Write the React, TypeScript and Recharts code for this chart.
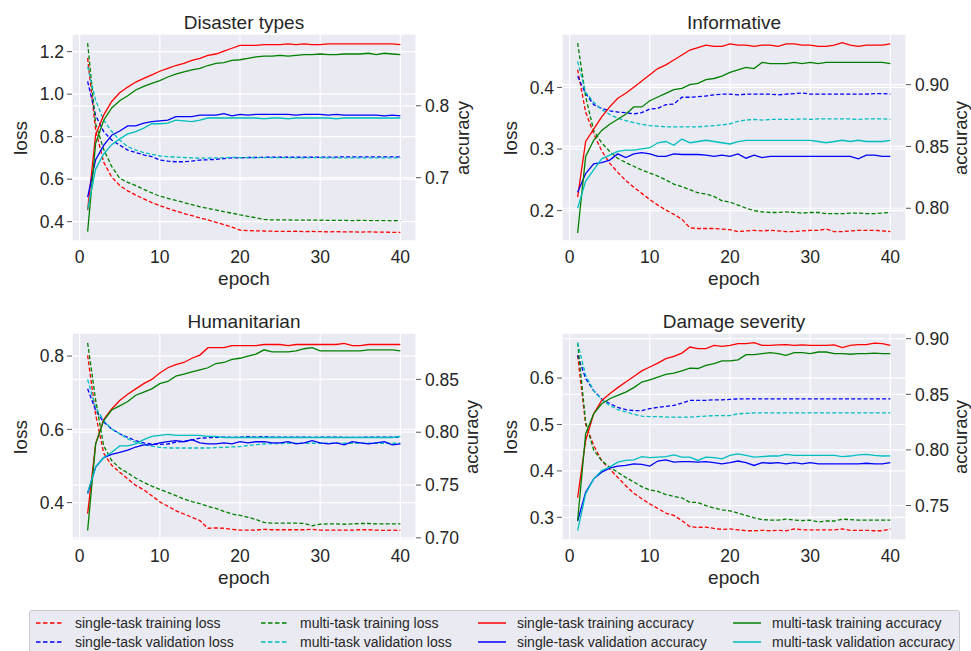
import React from 'react';
import { LineChart, Line, XAxis, YAxis, CartesianGrid } from 'recharts';

const epochs = [1, 2, 3, 4, 5, 6, 7, 8, 9, 10, 11, 12, 13, 14, 15, 16, 17, 18, 19, 20, 21, 22, 23, 24, 25, 26, 27, 28, 29, 30, 31, 32, 33, 34, 35, 36, 37, 38, 39, 40];
const epochTicks = [0, 10, 20, 30, 40];

// ---------- Disaster types ----------
const disasterSingleTrainLoss = [1.17, 0.83, 0.68, 0.61, 0.57, 0.545, 0.525, 0.507, 0.49, 0.475, 0.462, 0.45, 0.438, 0.428, 0.418, 0.408, 0.397, 0.386, 0.374, 0.36, 0.358, 0.357, 0.356, 0.355, 0.354, 0.354, 0.355, 0.353, 0.354, 0.353, 0.352, 0.353, 0.352, 0.352, 0.351, 0.352, 0.351, 0.351, 0.35, 0.35];
const disasterMultiTrainLoss = [1.24, 0.86, 0.74, 0.66, 0.604, 0.585, 0.57, 0.552, 0.535, 0.52, 0.51, 0.5, 0.49, 0.48, 0.47, 0.462, 0.455, 0.447, 0.44, 0.432, 0.425, 0.418, 0.411, 0.408, 0.408, 0.408, 0.407, 0.407, 0.407, 0.407, 0.406, 0.406, 0.406, 0.405, 0.406, 0.405, 0.405, 0.405, 0.404, 0.405];
const disasterSingleValLoss = [1.06, 0.9, 0.824, 0.784, 0.76, 0.737, 0.725, 0.714, 0.706, 0.69, 0.685, 0.682, 0.682, 0.685, 0.69, 0.691, 0.693, 0.697, 0.7, 0.7, 0.702, 0.702, 0.703, 0.703, 0.703, 0.703, 0.703, 0.703, 0.703, 0.703, 0.704, 0.704, 0.705, 0.705, 0.705, 0.705, 0.705, 0.705, 0.705, 0.705];
const disasterMultiValLoss = [1.13, 0.97, 0.878, 0.824, 0.784, 0.753, 0.737, 0.725, 0.717, 0.709, 0.706, 0.704, 0.702, 0.7, 0.699, 0.699, 0.7, 0.701, 0.703, 0.701, 0.701, 0.701, 0.701, 0.701, 0.701, 0.701, 0.7, 0.7, 0.701, 0.701, 0.7, 0.7, 0.7, 0.7, 0.7, 0.7, 0.7, 0.7, 0.7, 0.7];
const disasterSingleTrainAcc = [0.655, 0.76, 0.787, 0.806, 0.818, 0.826, 0.833, 0.838, 0.843, 0.848, 0.852, 0.856, 0.859, 0.863, 0.866, 0.87, 0.872, 0.876, 0.88, 0.884, 0.884, 0.884, 0.885, 0.885, 0.885, 0.886, 0.885, 0.886, 0.885, 0.885, 0.886, 0.886, 0.886, 0.886, 0.886, 0.886, 0.886, 0.886, 0.886, 0.885];
const disasterMultiTrainAcc = [0.625, 0.748, 0.78, 0.797, 0.807, 0.814, 0.822, 0.827, 0.831, 0.835, 0.84, 0.844, 0.847, 0.85, 0.852, 0.856, 0.859, 0.86, 0.863, 0.864, 0.866, 0.868, 0.869, 0.869, 0.87, 0.869, 0.87, 0.871, 0.871, 0.872, 0.871, 0.871, 0.872, 0.872, 0.872, 0.873, 0.871, 0.873, 0.872, 0.871];
const disasterSingleValAcc = [0.673, 0.725, 0.745, 0.759, 0.765, 0.772, 0.772, 0.776, 0.778, 0.779, 0.78, 0.785, 0.785, 0.785, 0.787, 0.787, 0.787, 0.789, 0.786, 0.788, 0.787, 0.788, 0.788, 0.788, 0.788, 0.788, 0.787, 0.788, 0.788, 0.788, 0.787, 0.788, 0.787, 0.787, 0.787, 0.787, 0.787, 0.786, 0.787, 0.786];
const disasterMultiValAcc = [0.656, 0.712, 0.733, 0.746, 0.754, 0.761, 0.764, 0.769, 0.775, 0.775, 0.776, 0.78, 0.779, 0.778, 0.78, 0.783, 0.783, 0.783, 0.783, 0.783, 0.783, 0.783, 0.782, 0.783, 0.783, 0.782, 0.783, 0.783, 0.783, 0.783, 0.783, 0.782, 0.783, 0.783, 0.783, 0.783, 0.783, 0.783, 0.783, 0.783];

// ---------- Informative ----------
const informativeSingleTrainLoss = [0.429, 0.36, 0.325, 0.297, 0.277, 0.262, 0.249, 0.238, 0.228, 0.218, 0.209, 0.201, 0.194, 0.186, 0.172, 0.171, 0.171, 0.171, 0.17, 0.169, 0.166, 0.167, 0.168, 0.167, 0.168, 0.167, 0.166, 0.166, 0.167, 0.168, 0.168, 0.17, 0.166, 0.166, 0.167, 0.168, 0.168, 0.168, 0.167, 0.166];
const informativeMultiTrainLoss = [0.472, 0.385, 0.33, 0.31, 0.296, 0.285, 0.278, 0.272, 0.266, 0.261, 0.256, 0.25, 0.243, 0.239, 0.234, 0.229, 0.227, 0.223, 0.216, 0.214, 0.209, 0.204, 0.2, 0.198, 0.197, 0.197, 0.198, 0.197, 0.196, 0.197, 0.197, 0.195, 0.195, 0.195, 0.196, 0.196, 0.195, 0.195, 0.196, 0.197];
const informativeSingleValLoss = [0.418, 0.39, 0.372, 0.366, 0.362, 0.36, 0.359, 0.357, 0.359, 0.365, 0.366, 0.372, 0.373, 0.384, 0.384, 0.385, 0.386, 0.388, 0.389, 0.389, 0.388, 0.389, 0.389, 0.389, 0.389, 0.388, 0.389, 0.39, 0.391, 0.389, 0.389, 0.389, 0.389, 0.389, 0.389, 0.389, 0.389, 0.39, 0.39, 0.389];
const informativeMultiValLoss = [0.442, 0.392, 0.376, 0.364, 0.356, 0.35, 0.346, 0.343, 0.34, 0.338, 0.337, 0.336, 0.336, 0.336, 0.336, 0.336, 0.337, 0.338, 0.339, 0.341, 0.345, 0.347, 0.348, 0.347, 0.348, 0.348, 0.348, 0.348, 0.349, 0.348, 0.349, 0.349, 0.349, 0.349, 0.349, 0.348, 0.349, 0.349, 0.349, 0.348];
const informativeSingleTrainAcc = [0.809, 0.854, 0.864, 0.874, 0.882, 0.889, 0.893, 0.898, 0.903, 0.908, 0.913, 0.916, 0.92, 0.924, 0.928, 0.93, 0.932, 0.931, 0.931, 0.933, 0.932, 0.932, 0.931, 0.932, 0.932, 0.931, 0.933, 0.933, 0.932, 0.932, 0.931, 0.931, 0.932, 0.934, 0.932, 0.931, 0.932, 0.932, 0.932, 0.933];
const informativeMultiTrainAcc = [0.78, 0.842, 0.855, 0.863, 0.868, 0.872, 0.876, 0.882, 0.882, 0.887, 0.89, 0.893, 0.896, 0.897, 0.9, 0.901, 0.904, 0.905, 0.907, 0.91, 0.912, 0.914, 0.913, 0.918, 0.917, 0.917, 0.917, 0.918, 0.917, 0.918, 0.917, 0.918, 0.918, 0.918, 0.918, 0.918, 0.918, 0.918, 0.918, 0.917];
const informativeSingleValAcc = [0.813, 0.828, 0.836, 0.837, 0.839, 0.844, 0.841, 0.844, 0.845, 0.844, 0.842, 0.842, 0.844, 0.8435, 0.8435, 0.8435, 0.843, 0.842, 0.843, 0.842, 0.844, 0.8405, 0.843, 0.841, 0.842, 0.842, 0.842, 0.842, 0.842, 0.842, 0.842, 0.842, 0.842, 0.842, 0.842, 0.84, 0.843, 0.843, 0.842, 0.842];
const informativeMultiValAcc = [0.8, 0.822, 0.831, 0.84, 0.843, 0.846, 0.847, 0.847, 0.848, 0.849, 0.853, 0.854, 0.851, 0.856, 0.853, 0.854, 0.855, 0.854, 0.853, 0.852, 0.854, 0.855, 0.855, 0.855, 0.855, 0.855, 0.855, 0.855, 0.855, 0.855, 0.854, 0.853, 0.854, 0.855, 0.854, 0.855, 0.854, 0.854, 0.854, 0.855];

// ---------- Humanitarian ----------
const humanitarianSingleTrainLoss = [0.802, 0.64, 0.535, 0.502, 0.483, 0.465, 0.447, 0.435, 0.419, 0.402, 0.39, 0.378, 0.369, 0.36, 0.351, 0.33, 0.331, 0.33, 0.327, 0.325, 0.325, 0.325, 0.327, 0.326, 0.326, 0.326, 0.326, 0.326, 0.327, 0.325, 0.325, 0.325, 0.325, 0.325, 0.326, 0.326, 0.325, 0.324, 0.325, 0.324];
const humanitarianMultiTrainLoss = [0.836, 0.68, 0.555, 0.515, 0.494, 0.481, 0.467, 0.455, 0.445, 0.436, 0.428, 0.419, 0.41, 0.403, 0.397, 0.39, 0.384, 0.376, 0.369, 0.365, 0.36, 0.354, 0.346, 0.344, 0.344, 0.344, 0.344, 0.343, 0.337, 0.341, 0.342, 0.342, 0.341, 0.342, 0.343, 0.343, 0.342, 0.342, 0.342, 0.342];
const humanitarianSingleValLoss = [0.711, 0.652, 0.62, 0.601, 0.588, 0.578, 0.569, 0.563, 0.56, 0.559, 0.56, 0.565, 0.567, 0.571, 0.576, 0.577, 0.578, 0.579, 0.578, 0.579, 0.58, 0.579, 0.58, 0.579, 0.579, 0.579, 0.579, 0.579, 0.578, 0.579, 0.579, 0.579, 0.578, 0.578, 0.578, 0.579, 0.579, 0.579, 0.579, 0.579];
const humanitarianMultiValLoss = [0.736, 0.66, 0.624, 0.601, 0.588, 0.574, 0.565, 0.559, 0.554, 0.551, 0.549, 0.549, 0.549, 0.549, 0.549, 0.549, 0.55, 0.551, 0.552, 0.553, 0.556, 0.558, 0.56, 0.561, 0.561, 0.562, 0.562, 0.562, 0.562, 0.562, 0.562, 0.562, 0.562, 0.562, 0.562, 0.562, 0.562, 0.562, 0.562, 0.562];
const humanitarianSingleTrainAcc = [0.723, 0.789, 0.812, 0.822, 0.83, 0.836, 0.841, 0.846, 0.85, 0.856, 0.861, 0.864, 0.866, 0.87, 0.873, 0.88, 0.88, 0.88, 0.882, 0.882, 0.882, 0.882, 0.883, 0.883, 0.883, 0.882, 0.883, 0.883, 0.883, 0.883, 0.883, 0.883, 0.884, 0.882, 0.882, 0.883, 0.883, 0.883, 0.883, 0.883];
const humanitarianMultiTrainAcc = [0.707, 0.789, 0.811, 0.821, 0.825, 0.829, 0.835, 0.838, 0.841, 0.846, 0.848, 0.853, 0.855, 0.857, 0.859, 0.861, 0.865, 0.866, 0.869, 0.87, 0.872, 0.874, 0.878, 0.876, 0.876, 0.876, 0.877, 0.879, 0.88, 0.877, 0.877, 0.877, 0.877, 0.877, 0.877, 0.878, 0.878, 0.878, 0.878, 0.877];
const humanitarianSingleValAcc = [0.742, 0.767, 0.776, 0.779, 0.781, 0.783, 0.786, 0.788, 0.788, 0.79, 0.791, 0.792, 0.791, 0.793, 0.79, 0.789, 0.789, 0.79, 0.789, 0.791, 0.79, 0.791, 0.791, 0.79, 0.79, 0.791, 0.789, 0.79, 0.792, 0.79, 0.789, 0.79, 0.788, 0.791, 0.79, 0.789, 0.79, 0.791, 0.788, 0.789];
const humanitarianMultiValAcc = [0.743, 0.767, 0.776, 0.781, 0.787, 0.787, 0.789, 0.793, 0.796, 0.797, 0.798, 0.797, 0.797, 0.797, 0.797, 0.796, 0.796, 0.795, 0.795, 0.795, 0.795, 0.795, 0.795, 0.795, 0.795, 0.795, 0.795, 0.795, 0.795, 0.795, 0.795, 0.795, 0.795, 0.795, 0.795, 0.795, 0.795, 0.795, 0.795, 0.796];

// ---------- Damage severity ----------
const damageSingleTrainLoss = [0.649, 0.5, 0.455, 0.422, 0.404, 0.386, 0.368, 0.352, 0.34, 0.329, 0.319, 0.309, 0.304, 0.293, 0.28, 0.278, 0.279, 0.276, 0.274, 0.275, 0.273, 0.271, 0.271, 0.272, 0.271, 0.272, 0.271, 0.275, 0.273, 0.273, 0.273, 0.273, 0.273, 0.275, 0.272, 0.272, 0.272, 0.271, 0.271, 0.275];
const damageMultiTrainLoss = [0.676, 0.505, 0.445, 0.422, 0.408, 0.397, 0.386, 0.376, 0.366, 0.359, 0.356, 0.349, 0.345, 0.342, 0.332, 0.332, 0.325, 0.32, 0.316, 0.314, 0.309, 0.304, 0.299, 0.295, 0.294, 0.294, 0.296, 0.294, 0.293, 0.294, 0.29, 0.292, 0.292, 0.296, 0.295, 0.294, 0.294, 0.294, 0.294, 0.294];
const damageSingleValLoss = [0.649, 0.599, 0.573, 0.555, 0.545, 0.537, 0.532, 0.53, 0.53, 0.534, 0.537, 0.539, 0.541, 0.546, 0.552, 0.552, 0.552, 0.553, 0.553, 0.554, 0.555, 0.555, 0.555, 0.555, 0.555, 0.555, 0.555, 0.555, 0.555, 0.555, 0.555, 0.555, 0.555, 0.555, 0.555, 0.555, 0.555, 0.555, 0.555, 0.555];
const damageMultiValLoss = [0.676, 0.606, 0.573, 0.553, 0.541, 0.532, 0.527, 0.522, 0.518, 0.517, 0.517, 0.516, 0.516, 0.516, 0.516, 0.517, 0.518, 0.519, 0.519, 0.519, 0.523, 0.524, 0.525, 0.525, 0.525, 0.525, 0.525, 0.525, 0.525, 0.525, 0.525, 0.525, 0.525, 0.525, 0.525, 0.525, 0.525, 0.525, 0.525, 0.525];
const damageSingleTrainAcc = [0.757, 0.8085, 0.8325, 0.8445, 0.8505, 0.856, 0.861, 0.866, 0.871, 0.8745, 0.878, 0.882, 0.884, 0.887, 0.8925, 0.891, 0.891, 0.894, 0.893, 0.894, 0.8955, 0.8955, 0.8964, 0.894, 0.894, 0.8945, 0.8947, 0.894, 0.8945, 0.894, 0.894, 0.894, 0.8945, 0.892, 0.894, 0.8947, 0.8947, 0.896, 0.8955, 0.894];
const damageMultiTrainAcc = [0.7365, 0.8145, 0.8325, 0.8415, 0.846, 0.849, 0.852, 0.856, 0.861, 0.863, 0.8655, 0.868, 0.869, 0.871, 0.8735, 0.8732, 0.876, 0.8775, 0.88, 0.88, 0.881, 0.8856, 0.8856, 0.8865, 0.8875, 0.8865, 0.885, 0.8875, 0.8875, 0.8865, 0.888, 0.888, 0.8865, 0.8865, 0.886, 0.8865, 0.8865, 0.887, 0.8865, 0.8865];
const damageSingleValAcc = [0.736, 0.762, 0.774, 0.78, 0.7836, 0.7854, 0.786, 0.7875, 0.787, 0.7854, 0.79, 0.791, 0.789, 0.7895, 0.7895, 0.789, 0.7895, 0.7885, 0.7875, 0.7885, 0.79, 0.7885, 0.786, 0.7885, 0.788, 0.7885, 0.7875, 0.7885, 0.7875, 0.7885, 0.7875, 0.7875, 0.7875, 0.7875, 0.7875, 0.7875, 0.788, 0.7875, 0.7875, 0.7885];
const damageMultiValAcc = [0.7275, 0.7605, 0.774, 0.7815, 0.7845, 0.789, 0.7905, 0.791, 0.794, 0.793, 0.7935, 0.794, 0.7956, 0.7935, 0.7935, 0.7905, 0.7935, 0.793, 0.792, 0.795, 0.7965, 0.795, 0.7935, 0.794, 0.7945, 0.7945, 0.796, 0.795, 0.795, 0.795, 0.795, 0.795, 0.795, 0.794, 0.7945, 0.7956, 0.796, 0.795, 0.7945, 0.7947];

const seriesNames = [
  'single-task training loss',
  'multi-task training loss',
  'single-task training accuracy',
  'multi-task training accuracy',
  'single-task validation loss',
  'multi-task validation loss',
  'single-task validation accuracy',
  'multi-task validation accuracy',
];

const RED = '#FF0000';
const GREEN = '#008000';
const BLUE = '#0000FF';
const CYAN = '#00BFBF';
const FONT = '"Liberation Sans", Arial, Helvetica, sans-serif';
const TEXT = '#262626';
const BG = '#EAEAF2';

type SeriesSet = {
  stl: number[]; mtl: number[]; svl: number[]; mvl: number[];
  sta: number[]; mta: number[]; sva: number[]; mva: number[];
};

type PanelProps = {
  title: string;
  plotLeft: number;
  plotTop: number;
  s: SeriesSet;
  lossDomain: [number, number];
  lossTicks: number[];
  accDomain: [number, number];
  accTicks: number[];
  accDigits: number;
  accLabelGap: number;
};

const PLOT_W = 344;
const PLOT_H = 207;
const LEFT_W = 72;
const RIGHT_W = 62;
const TOP_M = 10;
const X_H = 40;

function Panel(p: PanelProps) {
  const data = epochs.map((e, i) => ({
    epoch: e,
    stl: p.s.stl[i], mtl: p.s.mtl[i], svl: p.s.svl[i], mvl: p.s.mvl[i],
    sta: p.s.sta[i], mta: p.s.mta[i], sva: p.s.sva[i], mva: p.s.mva[i],
  }));
  const tickStyle = { fontSize: 17.5, fill: TEXT, fontFamily: FONT };
  const cx = p.plotLeft + PLOT_W / 2;
  const cy = p.plotTop + PLOT_H / 2;
  const lossLine = (key: string, color: string) => (
    <Line key={key} yAxisId="loss" type="linear" dataKey={key} stroke={color} strokeWidth={1.3}
      strokeDasharray="4 2.2" dot={false} activeDot={false} isAnimationActive={false} />
  );
  const accLine = (key: string, color: string) => (
    <Line key={key} yAxisId="acc" type="linear" dataKey={key} stroke={color} strokeWidth={1.3}
      dot={false} activeDot={false} isAnimationActive={false} />
  );
  const labelStyle: React.CSSProperties = {
    position: 'absolute', fontFamily: FONT, fontSize: 19, color: TEXT, whiteSpace: 'nowrap', lineHeight: 1,
  };
  return (
    <>
      <div style={{ position: 'absolute', left: p.plotLeft - LEFT_W, top: p.plotTop - TOP_M }}>
        <LineChart width={LEFT_W + PLOT_W + RIGHT_W} height={TOP_M + PLOT_H + X_H} data={data}
          margin={{ top: TOP_M, right: 0, bottom: 0, left: 0 }}>
          <CartesianGrid yAxisId="loss" fill={BG} fillOpacity={1} stroke="#FFFFFF" strokeWidth={1.2} />
          <CartesianGrid yAxisId="acc" vertical={false} stroke="#FFFFFF" strokeWidth={1.2} />
          <XAxis dataKey="epoch" type="number" domain={[-0.95, 41.95]} ticks={epochTicks}
            allowDataOverflow tickLine={false} axisLine={false} tickSize={0} tickMargin={10}
            height={X_H} tick={tickStyle} interval={0} />
          <YAxis yAxisId="loss" orientation="left" width={LEFT_W} type="number" domain={p.lossDomain}
            allowDataOverflow ticks={p.lossTicks} interval={0} tickFormatter={(v: number) => v.toFixed(1)}
            axisLine={false} tickSize={5} tickMargin={3} tickLine={{ stroke: '#555', strokeWidth: 1 }} tick={tickStyle} />
          <YAxis yAxisId="acc" orientation="right" width={RIGHT_W} type="number" domain={p.accDomain}
            allowDataOverflow ticks={p.accTicks} interval={0} tickFormatter={(v: number) => v.toFixed(p.accDigits)}
            axisLine={false} tickSize={5} tickMargin={4} tickLine={{ stroke: '#555', strokeWidth: 1 }} tick={tickStyle} />
          {lossLine('stl', RED)}
          {lossLine('svl', BLUE)}
          {lossLine('mtl', GREEN)}
          {lossLine('mvl', CYAN)}
          {accLine('sta', RED)}
          {accLine('sva', BLUE)}
          {accLine('mta', GREEN)}
          {accLine('mva', CYAN)}
        </LineChart>
      </div>
      <div style={{ ...labelStyle, left: cx, top: p.plotTop - 12.5, transform: 'translate(-50%, -50%)' }}>{p.title}</div>
      <div style={{ ...labelStyle, left: cx, top: p.plotTop + PLOT_H + 37, transform: 'translate(-50%, -50%)' }}>epoch</div>
      <div style={{ ...labelStyle, left: p.plotLeft - 52.5, top: cy, transform: 'translate(-50%, -50%) rotate(-90deg)' }}>loss</div>
      <div style={{ ...labelStyle, fontSize: 18.5, left: p.plotLeft + PLOT_W + p.accLabelGap, top: cy, transform: 'translate(-50%, -50%) rotate(-90deg)' }}>accuracy</div>
    </>
  );
}

const legendColors = [RED, GREEN, RED, GREEN, BLUE, CYAN, BLUE, CYAN];
const legendDashed = [true, true, false, false, true, true, false, false];
const legendCols = [35, 260, 477, 732];

function Legend() {
  return (
    <div style={{
      position: 'absolute', left: 29, top: 610, width: 931, height: 50,
      background: BG, border: '1px solid #C8C8CC', borderRadius: 3, boxSizing: 'border-box',
    }}>
      {seriesNames.map((name, i) => {
        const col = i % 4;
        const row = Math.floor(i / 4);
        const x = legendCols[col] - 29;
        const y = row === 0 ? 11.7 : 31;
        return (
          <div key={name} style={{ position: 'absolute', left: x, top: y, transform: 'translateY(-50%)', display: 'flex', alignItems: 'center' }}>
            <svg width={28} height={6} style={{ display: 'block' }}>
              <line x1={0} y1={3} x2={28} y2={3} stroke={legendColors[i]} strokeWidth={1.5}
                strokeDasharray={legendDashed[i] ? '4.5 2.5' : undefined} />
            </svg>
            <span style={{ marginLeft: 11, fontFamily: FONT, fontSize: 14, color: TEXT, whiteSpace: 'nowrap', lineHeight: 1 }}>{name}</span>
          </div>
        );
      })}
    </div>
  );
}

export default function App() {
  return (
    <div style={{ position: 'absolute', left: 0, top: 0, width: 971, height: 651, background: '#FFFFFF', overflow: 'hidden' }}>
      <Panel title="Disaster types" plotLeft={72} plotTop={34}
        s={{ stl: disasterSingleTrainLoss, mtl: disasterMultiTrainLoss, svl: disasterSingleValLoss, mvl: disasterMultiValLoss,
          sta: disasterSingleTrainAcc, mta: disasterMultiTrainAcc, sva: disasterSingleValAcc, mva: disasterMultiValAcc }}
        lossDomain={[0.309, 1.283]} lossTicks={[0.4, 0.6, 0.8, 1.0, 1.2]}
        accDomain={[0.612, 0.8998]} accTicks={[0.7, 0.8]} accDigits={1} accLabelGap={47} />
      <Panel title="Informative" plotLeft={562} plotTop={34}
        s={{ stl: informativeSingleTrainLoss, mtl: informativeMultiTrainLoss, svl: informativeSingleValLoss, mvl: informativeMultiValLoss,
          sta: informativeSingleTrainAcc, mta: informativeMultiTrainAcc, sva: informativeSingleValAcc, mva: informativeMultiValAcc }}
        lossDomain={[0.1507, 0.4867]} lossTicks={[0.2, 0.3, 0.4]}
        accDomain={[0.7735, 0.941]} accTicks={[0.8, 0.85, 0.9]} accDigits={2} accLabelGap={54.5} />
      <Panel title="Humanitarian" plotLeft={72} plotTop={333}
        s={{ stl: humanitarianSingleTrainLoss, mtl: humanitarianMultiTrainLoss, svl: humanitarianSingleValLoss, mvl: humanitarianMultiValLoss,
          sta: humanitarianSingleTrainAcc, mta: humanitarianMultiTrainAcc, sva: humanitarianSingleValAcc, mva: humanitarianMultiValAcc }}
        lossDomain={[0.298, 0.8629]} lossTicks={[0.4, 0.6, 0.8]}
        accDomain={[0.698, 0.8939]} accTicks={[0.7, 0.75, 0.8, 0.85]} accDigits={2} accLabelGap={56} />
      <Panel title="Damage severity" plotLeft={562} plotTop={333}
        s={{ stl: damageSingleTrainLoss, mtl: damageMultiTrainLoss, svl: damageSingleValLoss, mvl: damageMultiValLoss,
          sta: damageSingleTrainAcc, mta: damageMultiTrainAcc, sva: damageSingleValAcc, mva: damageMultiValAcc }}
        lossDomain={[0.2511, 0.6971]} lossTicks={[0.3, 0.4, 0.5, 0.6]}
        accDomain={[0.719, 0.9051]} accTicks={[0.75, 0.8, 0.85, 0.9]} accDigits={2} accLabelGap={54.5} />
      <Legend />
    </div>
  );
}
